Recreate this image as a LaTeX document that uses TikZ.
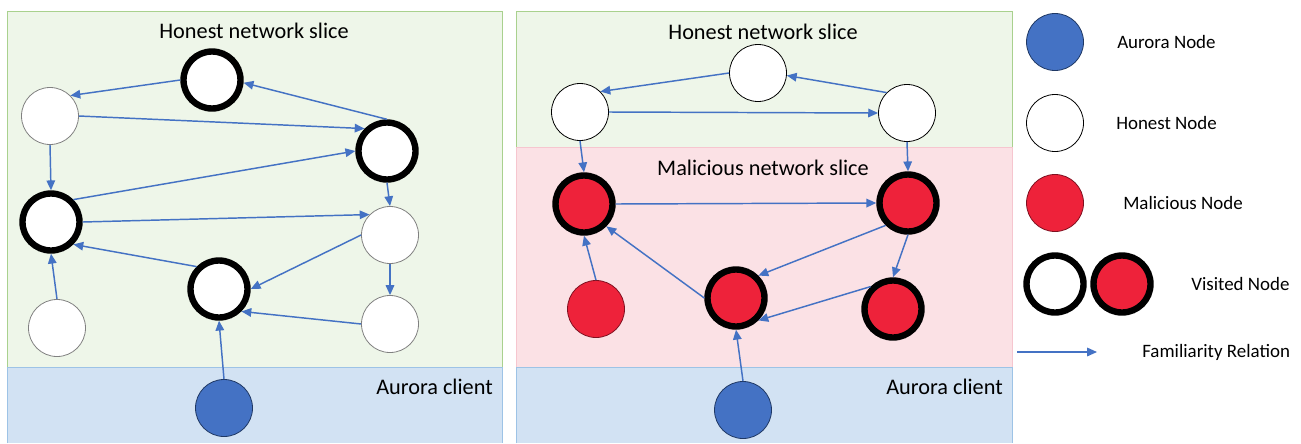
\documentclass[tikz,border=0pt]{standalone}
\usepackage{fontspec}
\setmainfont{Carlito}
\usetikzlibrary{arrows.meta}

\definecolor{auroraBlue}{HTML}{4472C4}
\definecolor{auroraLine}{HTML}{1F3864}
\definecolor{relBlue}{HTML}{4472C4}
\definecolor{malRed}{HTML}{EE223A}
\definecolor{malLine}{HTML}{7F1020}
\definecolor{honestFill}{HTML}{EEF6E9}
\definecolor{honestEdge}{HTML}{A9D18E}
\definecolor{maliciousFill}{HTML}{FBE1E5}
\definecolor{maliciousEdge}{HTML}{F6C6CF}
\definecolor{clientFill}{HTML}{D2E2F3}
\definecolor{clientEdge}{HTML}{9DC3E6}

\begin{document}
\begin{tikzpicture}[x=0.75pt,y=0.75pt,yscale=-1,xscale=1,
  peer/.style={circle,minimum size=42.75pt,inner sep=0pt,line width=0.6pt},
  honest/.style={peer,draw=black,fill=white},
  malicious/.style={peer,draw=malLine,fill=malRed},
  aurora/.style={peer,draw=auroraLine,fill=auroraBlue},
  visited/.style={draw=black,line width=4.8pt},
  rel/.style={draw=relBlue,line width=1.1pt,-{Triangle[length=7.4pt,width=6.4pt]}},
  slicetitle/.style={inner sep=0.75pt,font=\fontsize{16.7}{20}\selectfont},
  legendtext/.style={anchor=west,inner sep=0.75pt,font=\fontsize{14.2}{17}\selectfont}]
\useasboundingbox (0,0) rectangle (1301,443);

%Shape: Rectangle (left honest slice)
\draw [draw=honestEdge,fill=honestFill,line width=0.75pt] (7,11) rectangle (502,367) ;
%Shape: Rectangle (left client)
\fill [clientFill] (7,367) rectangle (502,443) ;
\draw [draw=clientEdge,line width=0.75pt] (7,443) -- (7,367) -- (502,367) -- (502,443) ;

%Shape: Rectangle (right honest slice)
\draw [draw=honestEdge,fill=honestFill,line width=0.75pt] (516,11) rectangle (1012,147) ;
%Shape: Rectangle (right malicious slice)
\draw [draw=maliciousEdge,fill=maliciousFill,line width=0.75pt] (516,147) rectangle (1012,367) ;
%Shape: Rectangle (right client)
\fill [clientFill] (516,367) rectangle (1012,443) ;
\draw [draw=clientEdge,line width=0.75pt] (516,443) -- (516,367) -- (1012,367) -- (1012,443) ;

% Text Node
\node [slicetitle] (lhtitle) at (254,31) {Honest network slice};
\node [slicetitle,anchor=east] (lclient) at (494,387) {Aurora client};
\node [slicetitle] (rhtitle) at (763,32) {Honest network slice};
\node [slicetitle] (rmtitle) at (763,168) {Malicious network slice};
\node [slicetitle,anchor=east] (rclient) at (1004,387) {Aurora client};

%Shape: Circle (left panel)
\node [honest,visited] (lA) at (212,80) {};
\node [honest,draw=gray] (lB) at (50,116) {};
\node [honest,visited] (lC) at (387,151) {};
\node [honest,visited] (lD) at (51,222) {};
\node [honest,draw=gray] (lE) at (390,235) {};
\node [honest,visited] (lF) at (219,289) {};
\node [honest,draw=gray] (lG) at (57,328) {};
\node [honest,draw=gray] (lH) at (390,324) {};
\node [aurora] (lI) at (224,408) {};

%Straight Lines (left panel)
\draw [rel] (lA.west) -- (lB.45) ;
\draw [rel] (lC.north) -- (lA.-5) ;
\draw [rel] (lB.east) -- (lC.135) ;
\draw [rel] (lB.south) -- (lD.north) ;
\draw [rel] (lD.45) -- (lC.west) ;
\draw [rel] (lC.south) -- (lE.north) ;
\draw [rel] (lD.east) -- (lE.135) ;
\draw [rel] (lE.west) -- (lF.east) ;
\draw [rel] (lF.135) -- (lD.-45) ;
\draw [rel] (lE.south) -- (lH.north) ;
\draw [rel] (lH.west) -- (lF.-45) ;
\draw [rel] (lG.north) -- (lD.south) ;
\draw [rel] (lI.north) -- (lF.south) ;

%Shape: Circle (right panel)
\node [honest] (ra) at (758,73) {};
\node [honest] (rb) at (580,112) {};
\node [honest] (rc) at (907,113) {};
\node [malicious,visited] (rd) at (584,204) {};
\node [malicious,visited] (re) at (908,203) {};
\node [malicious] (rf) at (596,309) {};
\node [malicious,visited] (rg) at (736,298) {};
\node [malicious,visited] (rh) at (893,309) {};
\node [aurora] (ri) at (743,410) {};

%Straight Lines (right panel)
\draw [rel] (ra.west) -- (rb.45) ;
\draw [rel] (rc.135) -- (ra.-5) ;
\draw [rel] (rb.east) -- (rc.west) ;
\draw [rel] (rb.south) -- (rd.north) ;
\draw [rel] (rc.south) -- (re.north) ;
\draw [rel] (rd.east) -- (re.west) ;
\draw [rel] (re.-135) -- (rg.45) ;
\draw [rel] (re.south) -- (rh.north) ;
\draw [rel] (rh.135) -- (rg.-45) ;
\draw [rel] (rg.west) -- (rd.-45) ;
\draw [rel] (rf.north) -- (rd.south) ;
\draw [rel] (ri.north) -- (rg.south) ;

%Legend
\node [aurora] (kaurora) at (1055,42) {};
\node [legendtext] (kauroratxt) at (1116,42) {Aurora Node};
\node [honest] (khonest) at (1055,123) {};
\node [legendtext] (khonesttxt) at (1115,123) {Honest Node};
\node [malicious] (kmal) at (1055,203) {};
\node [legendtext] (kmaltxt) at (1122,203) {Malicious Node};
\node [honest,visited] (kvisw) at (1055,284) {};
\node [malicious,visited] (kvisr) at (1122,284) {};
\node [legendtext] (kvistxt) at (1190,284) {Visited Node};
\coordinate (krelA) at (1017,352);
\coordinate (krelB) at (1097,352);
\draw [rel] (krelA) -- (krelB) ;
\node [legendtext] (kreltxt) at (1141,352) {Familiarity Relation};
\end{tikzpicture}
\end{document}
